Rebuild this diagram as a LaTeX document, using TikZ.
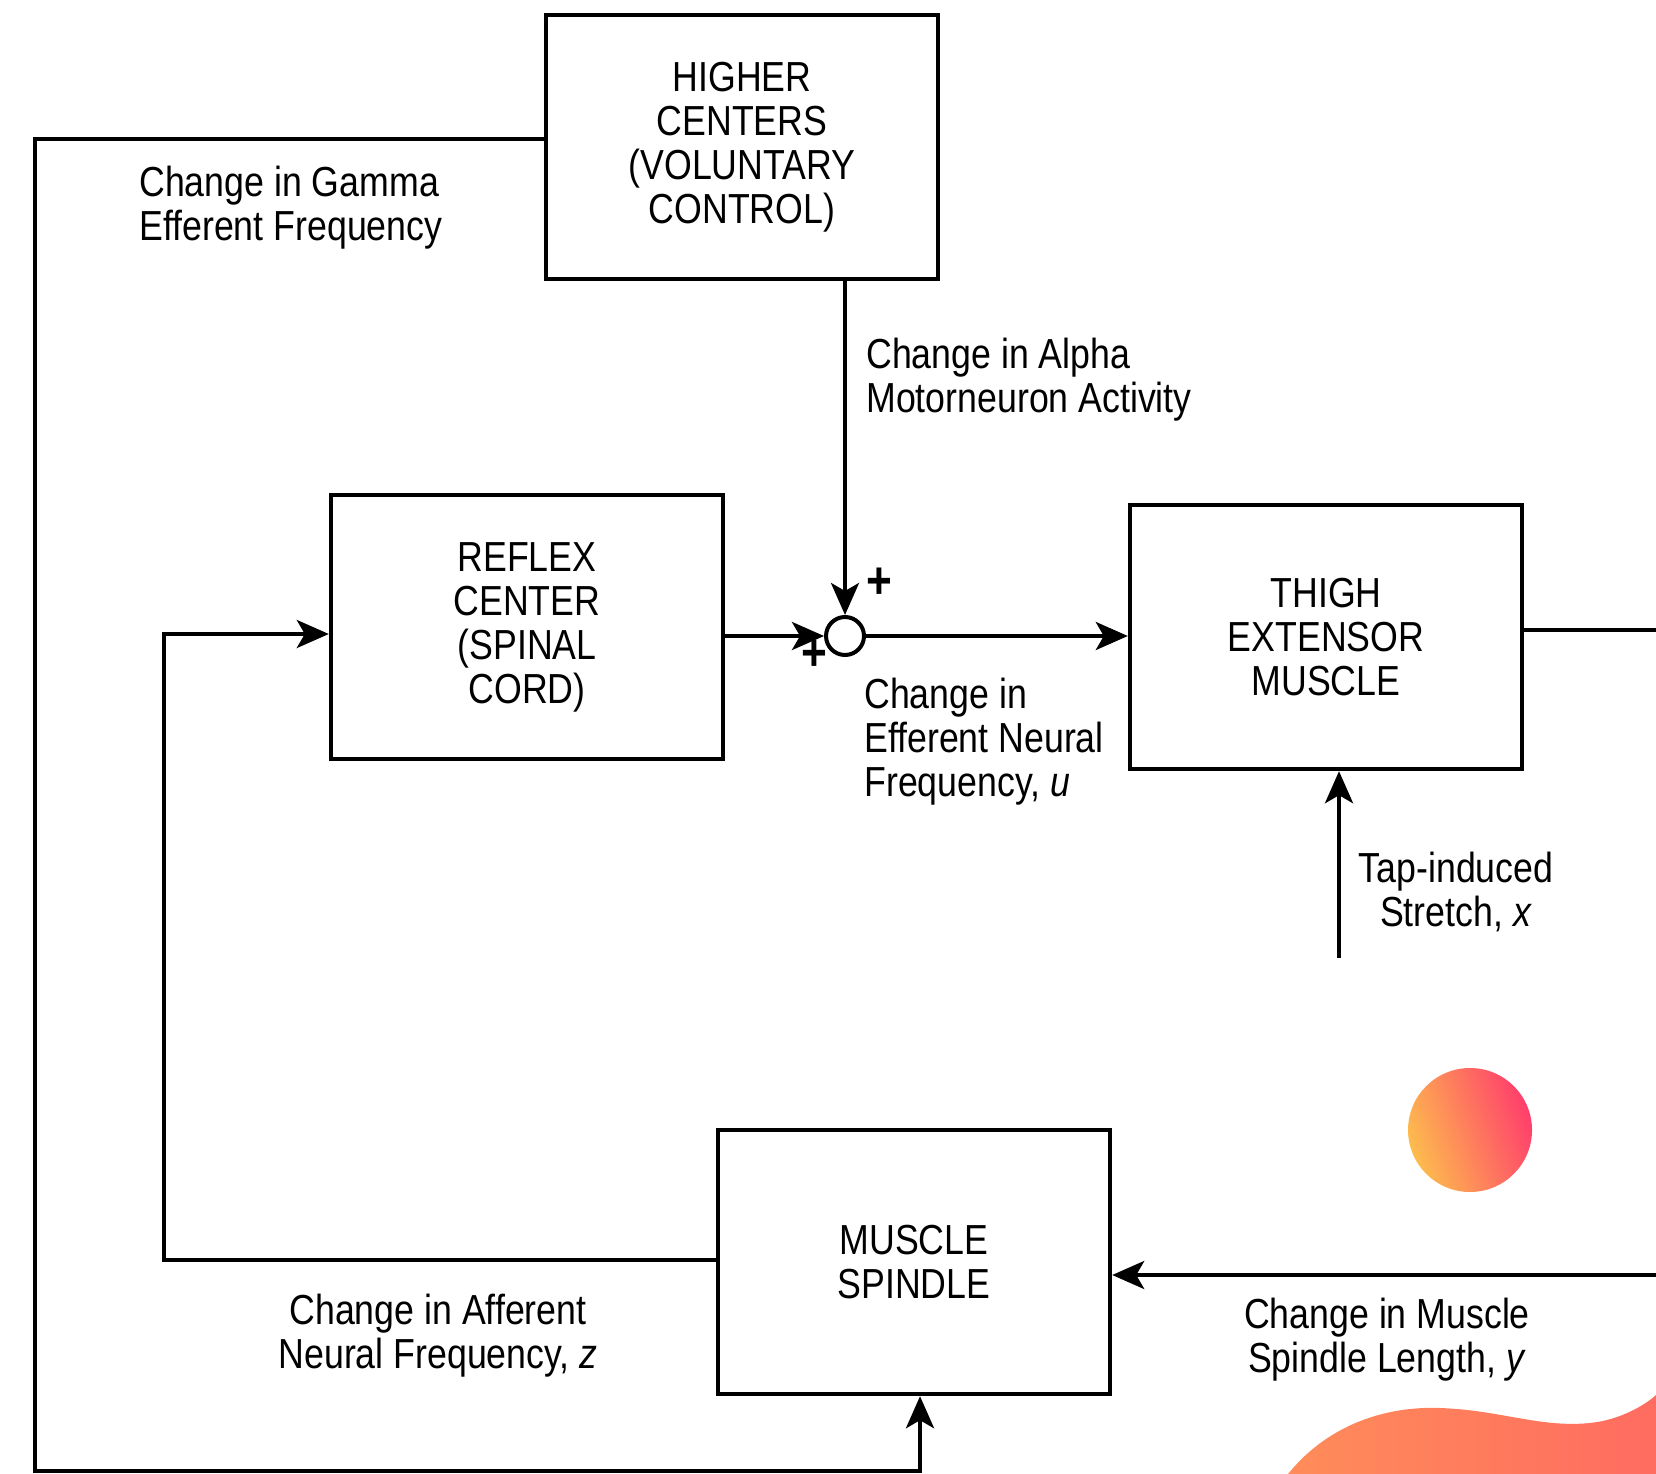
\documentclass[tikz,border=0pt]{standalone}
\usepackage{fontspec}
\setmainfont{Liberation Sans}[FakeStretch=0.85]
\usetikzlibrary{arrows.meta}
\definecolor{sunA}{RGB}{253,188,78}
\definecolor{sunB}{RGB}{255,62,108}
\definecolor{waveA}{RGB}{255,140,90}
\definecolor{waveB}{RGB}{255,108,96}
\begin{document}
\begin{tikzpicture}[x=0.25pt,y=-0.25pt,
			line width=1pt,
			every node/.style = {font=\fontsize{10.5}{11}\selectfont},
			block/.style = {draw, line width=1.1pt, align=center, minimum width=98pt, minimum height=66pt},
			lbl/.style = {align=left, anchor=west},
			clbl/.style = {align=center},
			sum/.style = {draw, circle, line width=1pt, minimum size=9.5pt, inner sep=0pt},
			sgn/.style = {font=\fontsize{13}{13}\bfseries\selectfont, inner sep=0pt},
			arr/.style = {-{Stealth[length=8pt,width=7pt,inset=2pt]}}]
			
			\useasboundingbox (0,0) rectangle (1656,1474);
			
			\node[block] (higher) at (742,147) {HIGHER\\CENTERS\\(VOLUNTARY\\CONTROL)};
			\node[block] (reflex) at (527,627) {REFLEX\\CENTER\\(SPINAL\\CORD)};
			\node[block] (thigh) at (1326,637) {THIGH\\EXTENSOR\\MUSCLE};
			\node[block] (spindle) at (914,1262) {MUSCLE\\SPINDLE};
			\node[sum] (sum) at (845,636) {};
			\node[sgn] (plusa) at (879,583) {+};
			\node[sgn] (plusb) at (814,655) {+};
			
			\coordinate (gtop) at (35,139);
			\coordinate (gbot) at (35,1471);
			\coordinate (aff) at (164,1260);
			\coordinate (thighout) at (1656,630);
			\coordinate (tap) at (1339,958);
			\coordinate (yin) at (1656,1275);
			
			\draw[arr] (higher.south -| sum) -- (sum.north);
			\draw[arr] (reflex.east |- sum.west) -- (sum.west);
			\draw[arr] (sum.east) -- (sum.east -| thigh.west);
			\draw (thigh.east |- thighout) -- (thighout);
			\draw[arr] (tap) -- (tap |- thigh.south);
			\draw[arr] (yin) -- (yin -| spindle.east);
			\draw[arr] (spindle.west |- aff) -- (aff) |- (reflex.west |- 0,634);
			\draw[arr] (higher.west |- gtop) -- (gtop) -- (gbot) -| ([xshift=1.5pt]spindle.south);
			
			\node[lbl] (gamma) at (124,208) {Change in Gamma\\Efferent Frequency};
			\node[lbl] (alpha) at (851,380) {Change in Alpha\\Motorneuron Activity};
			\node[lbl] (effer) at (849,742) {Change in\\Efferent Neural\\Frequency, \textit{u}};
			\node[clbl] (stretch) at (1456,892) {Tap-induced\\Stretch, \textit{x}};
			\node[clbl] (affer) at (438,1336) {Change in Afferent\\Neural Frequency, \textit{z}};
			\node[clbl] (length) at (1387,1340) {Change in Muscle\\Spindle Length, \textit{y}};
			
			\shade[left color=sunA, right color=sunB, shading angle=110] (1470,1130) circle[radius=15.5pt];
			\shade[left color=waveA, right color=waveB] (1288,1474) .. controls (1330,1422) and (1390,1406) .. (1440,1408) .. controls (1500,1410) and (1540,1428) .. (1590,1423) .. controls (1620,1420) and (1645,1405) .. (1656,1395) -- (1656,1474) -- cycle;
			\end{tikzpicture}
\end{document}
